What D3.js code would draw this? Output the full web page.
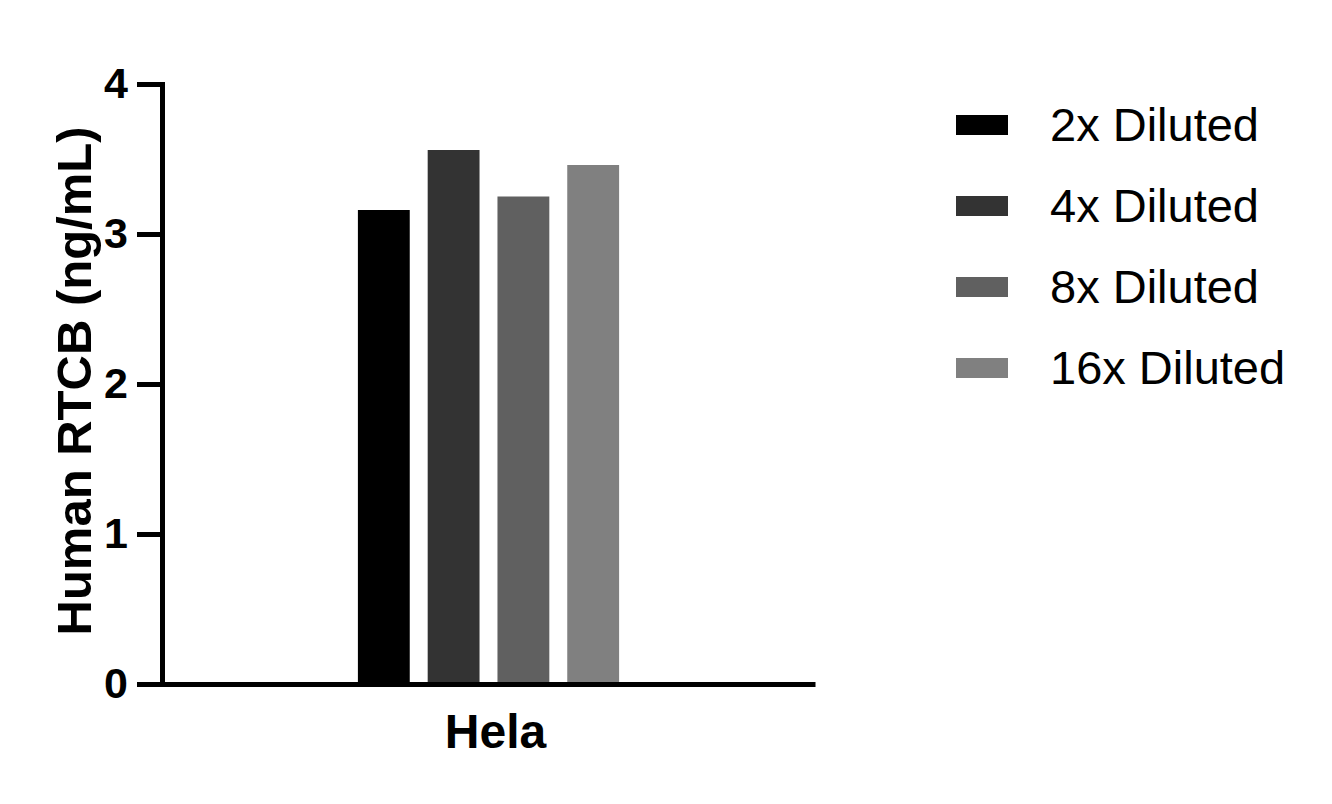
<!DOCTYPE html>
<html>
<head>
<meta charset="utf-8">
<script src="https://cdn.jsdelivr.net/npm/d3@7"></script>
<style>
  body { margin: 0; background: #fff; }
  svg { display: block; font-family: "Liberation Sans", Arial, sans-serif; }
</style>
</head>
<body>
<script>
// data
const categories = ["Hela"];
const series = ["2x Diluted", "4x Diluted", "8x Diluted", "16x Diluted"];
const values = [3.16, 3.56, 3.25, 3.46];
const colors = ["#000000", "#333333", "#606060", "#808080"];
const yTicks = [0, 1, 2, 3, 4];

const width = 1332, height = 804;
const margin = {top: 84, right: 517, bottom: 120, left: 162};

const svg = d3.select("body").append("svg")
    .attr("width", width)
    .attr("height", height);

const x0 = d3.scaleBand()
    .domain(categories)
    .range([margin.left, width - margin.right])
    .paddingInner(0)
    .paddingOuter(0.75);

const x1 = d3.scaleBand()
    .domain(series)
    .range([0, x0.bandwidth()])
    .paddingInner(0.257);

const y = d3.scaleLinear()
    .domain([0, 4])
    .range([height - margin.bottom, margin.top]);

// bars
const data = series.map((s, i) => ({cat: categories[0], name: s, value: values[i], color: colors[i]}));
svg.append("g")
  .selectAll("rect")
  .data(data)
  .join("rect")
    .attr("x", d => x0(d.cat) + x1(d.name))
    .attr("y", d => y(d.value))
    .attr("width", x1.bandwidth())
    .attr("height", d => y(0) - y(d.value))
    .attr("fill", d => d.color);

// y axis
const gy = svg.append("g")
    .attr("transform", `translate(${margin.left},0)`)
    .call(d3.axisLeft(y).tickValues(yTicks).tickFormat(d3.format("d")).tickSize(25).tickPadding(9).tickSizeOuter(0));
gy.select(".domain").attr("stroke-width", 5).attr("stroke-linecap", "square");
gy.selectAll(".tick line").attr("stroke-width", 5);
gy.selectAll(".tick text")
    .attr("font-size", 43)
    .attr("font-weight", "bold")
    .attr("fill", "#000")
    .attr("font-family", "Liberation Sans, Arial, sans-serif");

// x axis
const gx = svg.append("g")
    .attr("transform", `translate(0,${y(0)})`)
    .call(d3.axisBottom(x0).tickSize(0).tickPadding(30).tickSizeOuter(0));
gx.select(".domain").attr("stroke-width", 5);
gx.selectAll(".tick text")
    .attr("dx", 7)
    .attr("font-size", 48)
    .attr("font-weight", "bold")
    .attr("fill", "#000")
    .attr("font-family", "Liberation Sans, Arial, sans-serif");

// y title
svg.append("text")
    .attr("transform", `translate(91,${(125 + 637) / 2}) rotate(-90)`)
    .attr("text-anchor", "middle")
    .attr("font-size", 49)
    .attr("font-weight", "bold")
    .text("Human RTCB (ng/mL)");

// legend
const legend = svg.append("g")
    .attr("transform", "translate(956,125)");
const item = legend.selectAll("g")
  .data(data)
  .join("g")
    .attr("transform", (d, i) => `translate(0,${i * 81})`);
item.append("rect")
    .attr("x", 0)
    .attr("y", -10)
    .attr("width", 52)
    .attr("height", 20)
    .attr("fill", d => d.color);
item.append("text")
    .attr("x", 94)
    .attr("y", 16)
    .attr("font-size", 47)
    .text(d => d.name);
</script>
</body>
</html>
